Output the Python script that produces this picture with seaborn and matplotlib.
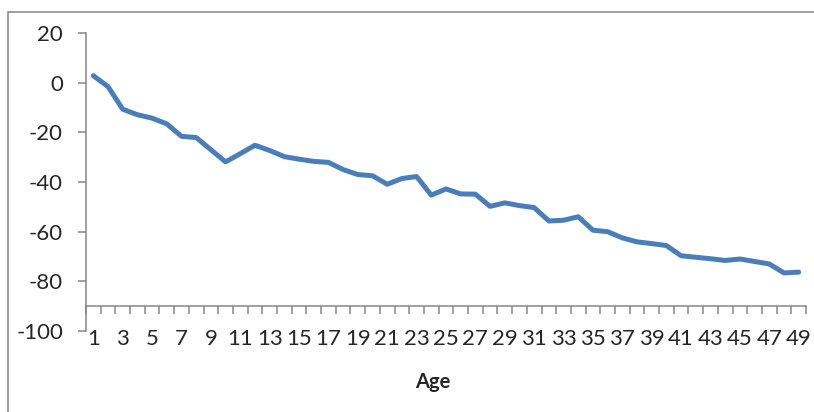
import numpy as np
import pandas as pd
import matplotlib
matplotlib.use("Agg")
import matplotlib.pyplot as plt
from matplotlib.lines import Line2D
from matplotlib.ticker import MultipleLocator, FixedLocator
import seaborn as sns

# values
ages = list(range(1, 50))
values = [2.8, -1.6, -10.7, -12.9, -14.3, -16.6, -21.6, -22.1, -27.0, -31.9,
          -28.6, -25.2, -27.3, -29.8, -30.8, -31.7, -32.1, -35.0, -37.0, -37.5,
          -40.9, -38.6, -37.8, -45.3, -42.8, -44.8, -44.9, -49.8, -48.4, -49.5,
          -50.3, -55.7, -55.4, -54.0, -59.4, -60.0, -62.5, -64.1, -64.8, -65.6,
          -69.7, -70.3, -70.9, -71.6, -71.0, -72.0, -73.0, -76.6, -76.3]
x_labels = [str(a) if a % 2 == 1 else "" for a in ages]

df = pd.DataFrame({"Age": ages, "Value": values})

sns.set_style("white")
plt.rcParams["font.family"] = ["Lato", "DejaVu Sans"]
plt.rcParams["axes.unicode_minus"] = False

fig = plt.figure(figsize=(8.14, 4.12), dpi=100)
ax = fig.add_axes([86 / 814, 81 / 412, 720 / 814, 298 / 412])

sns.lineplot(data=df, x="Age", y="Value", color="#4A7EBB", linewidth=3.6,
             ax=ax, solid_capstyle="round", solid_joinstyle="round")

axis_grey = "#868686"
ax.set_ylim(-100, 20)
ax.set_xlim(0.5, 49.5)
ax.yaxis.set_major_locator(MultipleLocator(20))

# x axis crosses at -90 like the original
ax.spines["bottom"].set_position(("data", -90))
ax.spines["top"].set_visible(False)
ax.spines["right"].set_visible(False)
for s in ("left", "bottom"):
    ax.spines[s].set_color(axis_grey)
    ax.spines[s].set_linewidth(1.1)

ax.xaxis.set_major_locator(FixedLocator(ages))
ax.set_xticklabels(x_labels)
ax.xaxis.set_minor_locator(FixedLocator(np.arange(0.5, 50, 1)))
ax.tick_params(axis="x", which="major", length=0, pad=16.5, labelsize=16)
ax.tick_params(axis="x", which="minor", length=5.5, width=1.1, color=axis_grey,
               direction="out")
ax.tick_params(axis="y", which="major", length=5.5, width=1.1, color=axis_grey,
               direction="out", pad=11, labelsize=16)
ax.tick_params(left=True, bottom=True, which="both")

ax.set_xlabel("")
ax.set_ylabel("")
fig.text(433 / 814, 1 - 382 / 412, "Age", ha="center", va="center",
         fontsize=14.5, fontweight="bold")

# chart area border (only left and top edges are visible)
fig.add_artist(Line2D([8 / 814, 8 / 814], [0, 1 - 12 / 412],
                      transform=fig.transFigure, color=axis_grey, lw=1.1))
fig.add_artist(Line2D([8 / 814, 1], [1 - 12 / 412, 1 - 12 / 412],
                      transform=fig.transFigure, color=axis_grey, lw=1.1))

fig.savefig("out.png", dpi=100)
